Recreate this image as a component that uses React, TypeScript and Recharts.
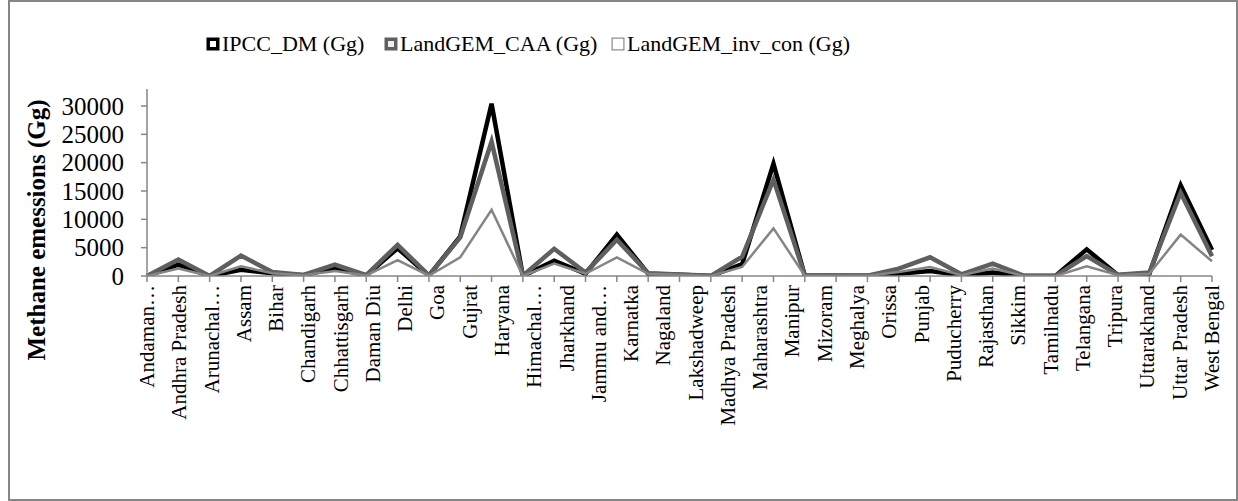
import React from 'react';
import { LineChart, Line, XAxis, YAxis } from 'recharts';

// State names printed under the category axis
const states = [
  'Andaman…', 'Andhra Pradesh', 'Arunachal…', 'Assam', 'Bihar', 'Chandigarh',
  'Chhattisgarh', 'Daman Diu', 'Delhi', 'Goa', 'Gujrat', 'Haryana', 'Himachal…',
  'Jharkhand', 'Jammu and…', 'Karnatka', 'Nagaland', 'Lakshadweep',
  'Madhya Pradesh', 'Maharashtra', 'Manipur', 'Mizoram', 'Meghalya', 'Orissa',
  'Punjab', 'Puducherry', 'Rajasthan', 'Sikkim', 'Tamilnadu', 'Telangana',
  'Tripura', 'Uttarakhand', 'Uttar Pradesh', 'West Bengal',
];

// Methane emissions (Gg), one value per plotted point
const ipccDM = [
  0, 2000, 0, 1100, 500, 150, 1400, 100, 4900, 50, 7000, 30400, 0, 2700, 400,
  7300, 400, 200, 0, 2100, 19800, 50, 50, 30, 400, 900, 150, 600, 0, 0, 4700,
  150, 400, 16000, 4600,
];
const landgemCAA = [
  0, 2900, 0, 3600, 700, 200, 2000, 150, 5500, 100, 6800, 23700, 50, 4800, 600,
  6400, 500, 250, 30, 3400, 17000, 100, 100, 50, 1300, 3300, 300, 2200, 30, 30,
  3500, 200, 600, 14700, 3500,
];
const landgemInvCon = [
  0, 1300, 0, 1700, 500, 150, 900, 100, 2800, 50, 3300, 11700, 0, 2200, 400,
  3300, 400, 200, 0, 1600, 8400, 50, 50, 30, 700, 1600, 150, 1300, 0, 0, 1700,
  150, 400, 7300, 2600,
];

const yTicks = [0, 5000, 10000, 15000, 20000, 25000, 30000];

const data = ipccDM.map((v, i) => ({
  pos: i,
  ipcc: v,
  caa: landgemCAA[i],
  inv: landgemInvCon[i],
}));

const lastPos = data.length - 1;
const pointTicks = data.map((d) => d.pos);
// the names are spread evenly over the full width of the axis
const nameStep = lastPos / (states.length - 1);
const nameTicks = states.map((_, i) => i * nameStep);

const FONT = '"Liberation Serif", "Times New Roman", serif';
const AXIS_GRAY = '#868686';

function NoLabel() {
  return null;
}

function StateTick(props: any) {
  const { x, y, payload } = props;
  const name = states[Math.round(payload.value / nameStep)];
  return (
    <text
      x={x}
      y={y}
      transform={`rotate(-90, ${x}, ${y})`}
      textAnchor="end"
      dominantBaseline="central"
      fontFamily={FONT}
      fontSize={21}
      fill="#000"
    >
      {name}
    </text>
  );
}

function ValueTick(props: any) {
  const { x, y, payload } = props;
  return (
    <text
      x={x}
      y={y}
      textAnchor="end"
      dominantBaseline="central"
      fontFamily={FONT}
      fontSize={25}
      fill="#000"
    >
      {payload.value}
    </text>
  );
}

function YTitle() {
  const cx = 36;
  const cy = 230;
  return (
    <text
      x={cx}
      y={cy}
      transform={`rotate(-90, ${cx}, ${cy})`}
      textAnchor="middle"
      dominantBaseline="central"
      fontFamily={FONT}
      fontSize={25}
      fontWeight="bold"
      fill="#000"
    >
      Methane emessions (Gg)
    </text>
  );
}

const legendItems = [
  { label: 'IPCC_DM (Gg)', left: 206, stroke: '#000', fill: '#fff', sw: 3.5 },
  { label: 'LandGEM_CAA (Gg)', left: 384, stroke: '#5f5f5f', fill: '#eee', sw: 3.5 },
  { label: 'LandGEM_inv_con (Gg)', left: 611, stroke: '#8a8a8a', fill: '#fff', sw: 1.2 },
];

export default function App() {
  return (
    <div
      style={{
        position: 'absolute',
        left: 0,
        top: 0,
        width: 1238,
        height: 501,
        background: '#fff',
      }}
    >
      <LineChart
        width={1238}
        height={501}
        data={data}
        margin={{ top: 89, right: 26, bottom: 0, left: 0 }}
      >
        {/* point axis: line and tick marks, right under the plot */}
        <XAxis
          xAxisId={0}
          type="number"
          dataKey="pos"
          domain={[0, lastPos]}
          ticks={pointTicks}
          interval={0}
          height={8}
          tick={<NoLabel />}
          tickSize={6}
          axisLine={{ stroke: AXIS_GRAY, strokeWidth: 1.5 }}
          tickLine={{ stroke: AXIS_GRAY, strokeWidth: 1.5 }}
        />
        {/* name axis: the rotated state names below the marks */}
        <XAxis
          xAxisId={1}
          type="number"
          dataKey="pos"
          domain={[0, lastPos]}
          ticks={nameTicks}
          allowDataOverflow
          interval={0}
          height={217}
          tick={<StateTick />}
          tickSize={0}
          tickMargin={1}
          axisLine={false}
          tickLine={false}
        />
        <YAxis
          width={147}
          domain={[0, 33000]}
          ticks={yTicks}
          allowDataOverflow
          tick={<ValueTick />}
          tickSize={6}
          tickMargin={17}
          axisLine={{ stroke: AXIS_GRAY, strokeWidth: 1.5 }}
          tickLine={{ stroke: AXIS_GRAY, strokeWidth: 1.5 }}
          label={<YTitle />}
        />
        <Line
          xAxisId={0}
          dataKey="ipcc"
          stroke="#000"
          strokeWidth={4.5}
          dot={false}
          isAnimationActive={false}
        />
        <Line
          xAxisId={0}
          dataKey="caa"
          stroke="#5f5f5f"
          strokeWidth={4.5}
          dot={false}
          isAnimationActive={false}
        />
        <Line
          xAxisId={0}
          dataKey="inv"
          stroke="#858585"
          strokeWidth={2.5}
          dot={false}
          isAnimationActive={false}
        />
      </LineChart>

      {legendItems.map((it) => (
        <div
          key={it.label}
          style={{
            position: 'absolute',
            left: it.left,
            top: 30,
            height: 28,
            display: 'flex',
            alignItems: 'center',
            fontFamily: FONT,
            fontSize: 22,
            color: '#000',
            whiteSpace: 'nowrap',
          }}
        >
          <svg width={14} height={14} style={{ marginRight: 2 }}>
            <rect
              x={it.sw / 2 + 0.5}
              y={it.sw / 2 + 0.5}
              width={13 - it.sw}
              height={13 - it.sw}
              fill={it.fill}
              stroke={it.stroke}
              strokeWidth={it.sw}
            />
          </svg>
          <span>{it.label}</span>
        </div>
      ))}

      <div
        style={{
          position: 'absolute',
          left: 8,
          top: 0,
          width: 1230,
          height: 501,
          boxSizing: 'border-box',
          border: `2px solid ${AXIS_GRAY}`,
          pointerEvents: 'none',
        }}
      />
    </div>
  );
}
